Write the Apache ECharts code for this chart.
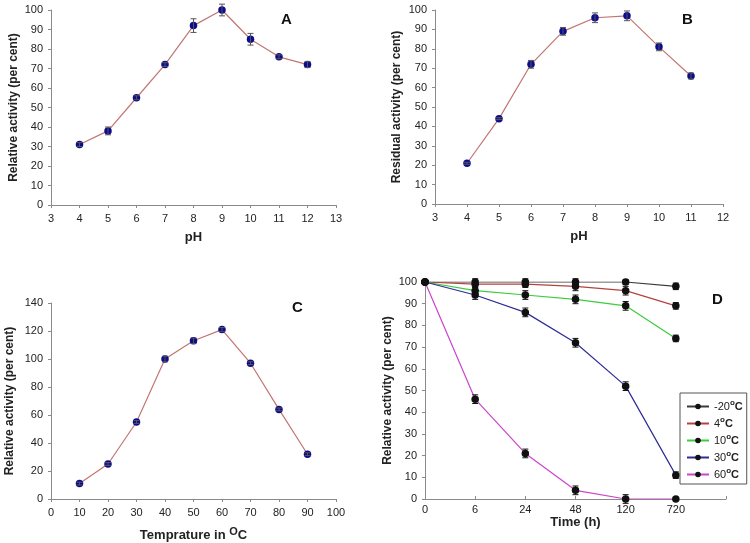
<!DOCTYPE html>
<html>
<head>
<meta charset="utf-8">
<script src="https://cdn.jsdelivr.net/npm/echarts@6/dist/echarts.min.js"></script>
<style>
html,body{margin:0;padding:0;background:#fff;}
#c{width:750px;height:543px;}
</style>
</head>
<body>
<div id="c"></div>
<script>
// ---- Panel A: pH vs relative activity
const phA = [4, 5, 6, 7, 8, 9, 10, 11, 12];
const actA = [31, 38, 55, 72, 92, 100, 85, 76, 72];
const errA = [1, 2, 1, 1, 3.5, 3, 3, 1, 1.5];
// ---- Panel B: pH vs residual activity
const phB = [4, 5, 6, 7, 8, 9, 10, 11];
const actB = [21, 44, 72, 89, 96, 97, 81, 66];
const errB = [0.5, 0.5, 2, 2, 2.5, 2.5, 2, 1.5];
// ---- Panel C: temperature vs relative activity
const tempC = [10, 20, 30, 40, 50, 60, 70, 80, 90];
const actC = [11, 25, 55, 100, 113, 121, 97, 64, 32];
const errC = [1, 1, 1, 2, 2, 1.5, 1, 1, 1];
// ---- Panel D: stability over time
const timeLabels = ['0', '6', '24', '48', '120', '720', ''];
const seriesNamesD = ['-20°C', '4°C', '10°C', '30°C', '60°C'];
const dM20 = [100, 100, 100, 100, 100, 98];
const d4 = [100, 99, 99, 98, 96, 89];
const d10 = [100, 96, 94, 92, 89, 74];
const d30 = [100, 94, 86, 72, 52, 11];
const d60 = [100, 46, 21, 4, 0, 0];
const eM20 = [0, 1.5, 1.5, 1.5, 1, 1.5];
const e4 = [0, 1.5, 1.5, 2, 2, 1.5];
const e10 = [0, 1.5, 2, 2, 2, 1.5];
const e30 = [0, 2, 2, 2, 2, 1.5];
const e60 = [0, 2, 2, 2, 2, 0];

const FONT = 'Liberation Sans, Arial, sans-serif';
const AX = '#8a8a8a';
const TXT = '#222';
const LINE_AC = '#c27672';
const MARK = '#0c0c8e';

function errRender(color) {
  return function (params, api) {
    const x = api.value(0), y = api.value(1), e = api.value(2);
    if (!e) return null;
    const t = api.coord([x, y + e]);
    const b = api.coord([x, y - e]);
    const hw = 3;
    const st = { stroke: color, lineWidth: 1 };
    return {
      type: 'group',
      children: [
        { type: 'line', shape: { x1: t[0], y1: t[1], x2: b[0], y2: b[1] }, style: st },
        { type: 'line', shape: { x1: t[0] - hw, y1: t[1], x2: t[0] + hw, y2: t[1] }, style: st },
        { type: 'line', shape: { x1: b[0] - hw, y1: b[1], x2: b[0] + hw, y2: b[1] }, style: st }
      ]
    };
  };
}

function xAxisVal(idx, min, max, interval, name, nameRich) {
  return {
    gridIndex: idx, type: 'value', min: min, max: max, interval: interval,
    name: name, nameLocation: 'middle', nameGap: 26,
    nameTextStyle: { fontFamily: FONT, fontSize: 13, fontWeight: 'bold', color: TXT, rich: nameRich || {} },
    axisLine: { show: true, lineStyle: { color: AX, width: 1 } },
    axisTick: { show: true, length: 3, lineStyle: { color: AX } },
    axisLabel: { fontFamily: FONT, fontSize: 11, color: TXT, margin: 8 },
    splitLine: { show: false }
  };
}
function yAxisVal(idx, min, max, interval, name) {
  return {
    gridIndex: idx, type: 'value', min: min, max: max, interval: interval,
    name: name, nameLocation: 'middle', nameGap: 31,
    nameTextStyle: { fontFamily: FONT, fontSize: 12, fontWeight: 'bold', color: TXT },
    axisLine: { show: true, lineStyle: { color: AX, width: 1 } },
    axisTick: { show: true, length: 3, lineStyle: { color: AX } },
    axisLabel: { fontFamily: FONT, fontSize: 11, color: TXT, margin: 8 },
    splitLine: { show: false }
  };
}

function lineSeries(idx, xs, ys, name, lineColor, markColor) {
  return {
    type: 'line', name: name, xAxisIndex: idx, yAxisIndex: idx,
    data: xs.map((x, i) => [x, ys[i]]),
    symbol: 'circle', symbolSize: 7.5,
    lineStyle: { color: lineColor, width: 1.2 },
    itemStyle: { color: markColor },
    z: 3, animation: false
  };
}
function errSeries(idx, xs, ys, es, color) {
  return {
    type: 'custom', xAxisIndex: idx, yAxisIndex: idx,
    renderItem: errRender(color),
    data: xs.map((x, i) => [x, ys[i], es[i]]),
    encode: { x: 0, y: [1, 2] },
    z: 4, animation: false, silent: true
  };
}

const dIdx = [0, 1, 2, 3, 4, 5];
const dVals = [dM20, d4, d10, d30, d60];
const dErrs = [eM20, e4, e10, e30, e60];
const dColors = ['#3a3a3a', '#b5423f', '#3ccc3c', '#2d2d96', '#cc44cc'];

const series = [
  errSeries(0, phA, actA, errA, '#555'),
  lineSeries(0, phA, actA, 'A', LINE_AC, MARK),
  errSeries(1, phB, actB, errB, '#555'),
  lineSeries(1, phB, actB, 'B', LINE_AC, MARK),
  errSeries(2, tempC, actC, errC, '#555'),
  lineSeries(2, tempC, actC, 'C', LINE_AC, MARK)
];
seriesNamesD.forEach((n, k) => {
  series.push(lineSeries(3, dIdx, dVals[k], n, dColors[k], '#111'));
});
seriesNamesD.forEach((n, k) => {
  series.push(errSeries(3, dIdx, dVals[k], dErrs[k], '#111'));
});

const degRich = {
  s: { fontFamily: FONT, fontSize: 8, fontWeight: 'bold', color: TXT, padding: [0, 0, 7, 0] },
  b: { fontFamily: FONT, fontSize: 11, fontWeight: 'bold', color: TXT }
};

const option = {
  backgroundColor: '#fff',
  animation: false,
  grid: [
    { left: 51, top: 10, width: 285, height: 195 },
    { left: 435, top: 10, width: 288, height: 194 },
    { left: 51, top: 303, width: 285, height: 196 },
    { left: 425, top: 282, width: 301, height: 217 }
  ],
  xAxis: [
    xAxisVal(0, 3, 13, 1, 'pH'),
    xAxisVal(1, 3, 12, 1, 'pH'),
    Object.assign(xAxisVal(2, 0, 100, 10, 'Temprature in {s|O}C', {
      s: { fontFamily: FONT, fontSize: 11, fontWeight: 'bold', color: TXT, padding: [0, 0, 8, 0] }
    }), { nameGap: 27 }),
    {
      gridIndex: 3, type: 'category', data: timeLabels, boundaryGap: false,
      name: 'Time (h)', nameLocation: 'middle', nameGap: 14,
      nameTextStyle: { fontFamily: FONT, fontSize: 13, fontWeight: 'bold', color: TXT },
      axisLine: { show: true, lineStyle: { color: AX, width: 1 } },
      axisTick: { show: true, inside: true, length: 3, lineStyle: { color: AX } },
      axisLabel: { fontFamily: FONT, fontSize: 11, color: TXT, margin: 5, interval: 0 },
      splitLine: { show: false }
    }
  ],
  yAxis: [
    yAxisVal(0, 0, 100, 10, 'Relative activity (per cent)'),
    Object.assign(yAxisVal(1, 0, 100, 10, 'Residual activity (per cent)'), { nameGap: 32 }),
    Object.assign(yAxisVal(2, 0, 140, 20, 'Relative activity (per cent)'), { nameGap: 35 }),
    Object.assign(yAxisVal(3, 0, 100, 10, 'Relative activity (per cent)'), { nameGap: 31 })
  ],
  legend: {
    data: seriesNamesD,
    orient: 'vertical',
    left: 680, top: 393,
    width: 70,
    itemWidth: 22, itemHeight: 7, itemGap: 4,
    padding: [6, 4, 4, 6],
    borderColor: '#555', borderWidth: 1, backgroundColor: '#fff',
    textStyle: { fontFamily: FONT, fontSize: 11, color: TXT, rich: degRich },
    formatter: function (n) { return n.replace('°C', '{s|o}{b|C}'); }
  },
  graphic: [
    { type: 'text', left: 281, top: 12, style: { text: 'A', font: 'bold 15px ' + FONT, fill: '#111' } },
    { type: 'text', left: 682, top: 12, style: { text: 'B', font: 'bold 15px ' + FONT, fill: '#111' } },
    { type: 'text', left: 292, top: 300, style: { text: 'C', font: 'bold 15px ' + FONT, fill: '#111' } },
    { type: 'text', left: 712, top: 292, style: { text: 'D', font: 'bold 15px ' + FONT, fill: '#111' } }
  ],
  series: series
};

const chart = echarts.init(document.getElementById('c'), null, { renderer: 'canvas' });
chart.setOption(option);
</script>
</body>
</html>
